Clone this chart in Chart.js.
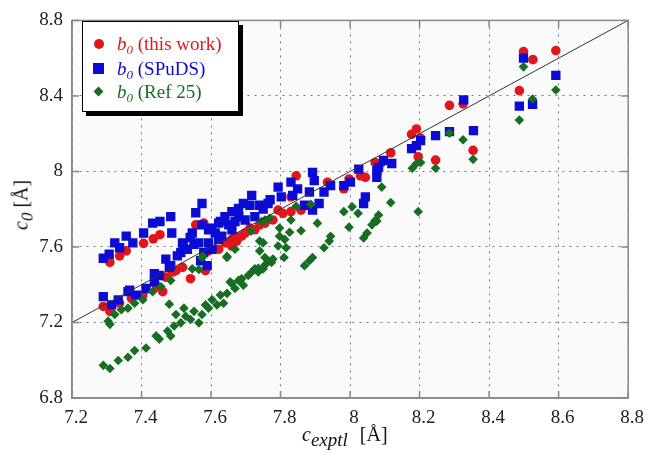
<!DOCTYPE html>
<html>
<head>
<meta charset="utf-8">
<script src="https://cdn.jsdelivr.net/npm/chart.js@4/dist/chart.umd.min.js"></script>
<style>
  body { margin: 0; background: #fff; }
  #wrap { position: relative; width: 649px; height: 454px; font-family: "Liberation Serif", "DejaVu Serif", serif; }
  #plot { position: absolute; left: 0; top: 0; }
  .legend { position: absolute; left: 82px; top: 21px; width: 155px; height: 89px; background: #fff;
            border: 1.5px solid #000; box-shadow: 4px 4px 0 #000; }
  .row { position: absolute; left: 0; font-size: 19px; white-space: nowrap; line-height: 20px; }
  .row i { font-style: italic; }
  .row sub { font-size: 13px; font-style: italic; vertical-align: -4px; line-height: 0; }
  .mk { position: absolute; left: 11px; }
  .txt { position: absolute; left: 34px; top: 0; }
  .xt { position: absolute; left: 302px; top: 423px; font-size: 20px; white-space: nowrap; color: #111; }
  .xt i { font-style: italic; }
  .xt sub { font-size: 19px; font-style: italic; vertical-align: -5px; line-height: 0; }
  .yt { position: absolute; left: 21px; top: 205px; font-size: 20px; white-space: nowrap; color: #111;
        transform: translate(-50%, -50%) rotate(-90deg); }
  .yt sub { font-size: 17px; font-style: italic; vertical-align: -5px; line-height: 0; }
</style>
</head>
<body>
<div id="wrap">
  <canvas id="plot" width="649" height="454"></canvas>
  <div class="legend">
    <div class="row" style="top:12px;color:#e3151b">
      <span class="mk" style="top:5px;width:10px;height:10px;border-radius:50%;background:#e3151b"></span>
      <span class="txt"><i>b</i><sub>0</sub> (this work)</span>
    </div>
    <div class="row" style="top:37px;color:#0b0bd6">
      <span class="mk" style="top:4px;left:10px;width:11px;height:11px;background:#0b0bd6"></span>
      <span class="txt"><i>b</i><sub>0</sub> (SPuDS)</span>
    </div>
    <div class="row" style="top:60px;color:#176e22">
      <span class="mk" style="top:6px;left:12px;width:7px;height:7px;background:#176e22;transform:rotate(45deg)"></span>
      <span class="txt"><i>b</i><sub>0</sub> (Ref 25)</span>
    </div>
  </div>
  <div class="xt"><i>c</i><sub>exptl</sub><span style="margin-left:12px">[Å]</span></div>
  <div class="yt"><i>c</i><sub>0</sub> [Å]</div>
</div>
<script>
// b0 (this work)
const thisWorkX = [8.499, 8.526, 8.592, 8.487, 8.286, 8.325, 8.191, 8.177, 8.203, 8.117, 8.196, 8.246, 8.354, 8.091,
  7.309, 7.307, 7.337, 7.356, 7.406, 7.434, 7.453, 7.556, 7.579, 7.584, 7.541, 7.518, 7.622, 7.641, 7.674, 7.688,
  7.669, 7.442, 7.470, 7.499, 7.290, 7.309, 7.337, 7.371, 7.404, 7.446, 7.461, 7.489, 7.845, 7.830, 7.793, 7.807,
  7.830, 7.778, 7.740, 7.726, 7.698, 7.660, 7.646, 7.593, 7.859, 7.935, 7.997, 8.030, 8.044, 8.072, 7.982, 7.755,
  7.660, 7.712];
const thisWorkY = [8.635, 8.592, 8.640, 8.428, 8.350, 8.358, 8.225, 8.197, 8.177, 8.099, 8.078, 8.060, 8.112, 8.047,
  7.518, 7.539, 7.553, 7.579, 7.619, 7.643, 7.665, 7.717, 7.726, 7.475, 7.432, 7.492, 7.588, 7.622, 7.631, 7.657,
  7.657, 7.397, 7.440, 7.475, 7.285, 7.259, 7.302, 7.328, 7.345, 7.389, 7.363, 7.467, 7.977, 7.865, 7.795, 7.778,
  7.787, 7.743, 7.717, 7.691, 7.674, 7.640, 7.622, 7.579, 7.795, 7.943, 7.960, 7.977, 7.969, 8.047, 7.908, 7.726,
  7.605, 7.700];

// b0 (SPuDS)
const spudsX = [8.499, 8.592, 8.487, 8.525, 8.327, 8.355, 8.286, 8.246, 8.203, 8.191, 8.177, 8.096, 8.120, 8.077, 8.077,
  7.307, 7.290, 7.323, 7.337, 7.356, 7.375, 7.406, 7.432, 7.453, 7.484, 7.487, 7.556, 7.574, 7.574, 7.546, 7.518,
  7.513, 7.532, 7.551, 7.503, 7.470, 7.480, 7.437, 7.593, 7.612, 7.627, 7.660, 7.679, 7.693, 7.651, 7.669, 7.631,
  7.603, 7.579, 7.570, 7.290, 7.314, 7.333, 7.361, 7.385, 7.413, 7.437, 7.451, 7.484, 7.589, 7.366, 7.717, 7.712,
  7.740, 7.764, 7.793, 7.802, 7.830, 7.849, 7.835, 7.892, 7.897, 7.883, 7.869, 7.892, 7.911, 7.925, 7.944, 7.982,
  8.001, 8.025, 8.044, 8.039, 8.082, 7.622, 7.593, 7.565, 7.660, 7.698, 7.726, 7.622, 7.540, 7.600, 7.640, 7.680,
  7.750, 7.770, 7.520];
const spudsY = [8.600, 8.509, 8.346, 8.355, 8.379, 8.216, 8.211, 8.190, 8.163, 8.137, 8.121, 8.059, 8.042, 8.003, 7.969,
  7.562, 7.540, 7.622, 7.596, 7.657, 7.622, 7.674, 7.726, 7.735, 7.761, 7.674, 7.781, 7.830, 7.717, 7.674, 7.622,
  7.570, 7.588, 7.614, 7.553, 7.536, 7.492, 7.458, 7.622, 7.674, 7.735, 7.787, 7.804, 7.830, 7.717, 7.735, 7.657,
  7.588, 7.570, 7.527, 7.337, 7.293, 7.320, 7.363, 7.345, 7.380, 7.415, 7.449, 7.501, 7.501, 7.371, 7.873, 7.821,
  7.821, 7.830, 7.917, 7.865, 7.943, 7.908, 7.873, 7.995, 7.951, 7.891, 7.821, 7.795, 7.830, 7.891, 7.925, 7.925,
  7.943, 8.012, 7.865, 7.830, 8.021, 7.726, 7.691, 7.622, 7.691, 7.743, 7.761, 7.640, 7.650, 7.700, 7.760, 7.760,
  7.800, 7.850, 7.600];

// b0 (Ref 25)
const ref25X = [8.499, 8.592, 8.525, 8.487, 8.286, 8.325, 8.354, 8.246, 8.203, 8.191, 8.179, 8.091, 8.117, 8.196, 8.082,
  8.077, 8.006, 7.982, 8.023, 8.072, 8.063, 7.997, 8.049, 8.039, 7.944, 7.940, 7.925, 7.892, 7.883, 7.869, 7.887,
  7.906, 7.845, 7.859, 7.830, 7.826, 7.797, 7.797, 7.812, 7.793, 7.816, 7.810, 7.778, 7.769, 7.755, 7.740, 7.750,
  7.740, 7.755, 7.764, 7.750, 7.736, 7.726, 7.717, 7.707, 7.688, 7.679, 7.655, 7.715, 7.669, 7.646, 7.576, 7.565,
  7.290, 7.309, 7.333, 7.361, 7.380, 7.413, 7.442, 7.451, 7.475, 7.484, 7.494, 7.513, 7.527, 7.541, 7.551, 7.565,
  7.574, 7.584, 7.593, 7.603, 7.617, 7.627, 7.636, 7.646, 7.660, 7.669, 7.684, 7.693, 7.736, 7.755, 7.774, 7.522,
  7.499, 7.480, 7.309, 7.304, 7.323, 7.342, 7.361, 7.380, 7.404, 7.432, 7.456, 7.484, 7.546, 7.574, 7.646, 7.745];
const ref25Y = [8.554, 8.431, 8.384, 8.272, 8.203, 8.168, 8.064, 8.017, 8.047, 8.042, 8.017, 7.917, 7.835, 7.787, 7.769,
  7.737, 7.813, 7.787, 7.778, 7.740, 7.717, 7.705, 7.674, 7.648, 7.657, 7.631, 7.596, 7.544, 7.527, 7.501, 7.826,
  7.726, 7.816, 7.686, 7.743, 7.678, 7.700, 7.657, 7.640, 7.605, 7.596, 7.544, 7.536, 7.752, 7.743, 7.631, 7.622,
  7.579, 7.544, 7.527, 7.484, 7.467, 7.484, 7.467, 7.449, 7.432, 7.423, 7.415, 7.683, 7.588, 7.550, 7.550, 7.481,
  6.973, 6.956, 6.999, 7.016, 7.051, 7.065, 7.129, 7.112, 7.155, 7.129, 7.181, 7.198, 7.233, 7.216, 7.259, 7.198,
  7.242, 7.293, 7.276, 7.320, 7.293, 7.345, 7.302, 7.354, 7.406, 7.380, 7.423, 7.397, 7.487, 7.504, 7.518, 7.276,
  7.242, 7.297, 7.190, 7.207, 7.242, 7.268, 7.276, 7.302, 7.320, 7.363, 7.389, 7.423, 7.484, 7.544, 7.544, 7.735];

// y = x reference line
const diagX = [7.2, 8.8];
const diagY = [7.2, 8.8];

const xTicks = [7.2, 7.4, 7.6, 7.8, 8, 8.2, 8.4, 8.6, 8.8];
const yTicks = [6.8, 7.2, 7.6, 8, 8.4, 8.8];

function pts(xs, ys) {
  return xs.map((x, i) => ({ x: x, y: ys[i] }));
}

const frame = {
  id: 'frame',
  beforeDraw(chart) {
    const a = chart.chartArea, ctx = chart.ctx;
    ctx.save();
    ctx.fillStyle = '#fafafa';
    ctx.fillRect(a.left, a.top, a.right - a.left, a.bottom - a.top);
    ctx.restore();
  },
  afterDatasetsDraw(chart) {
    const a = chart.chartArea, ctx = chart.ctx;
    const xs = chart.scales.x, ys = chart.scales.y;
    ctx.save();
    ctx.strokeStyle = '#888';
    ctx.lineWidth = 1.5;
    ctx.strokeRect(a.left, a.top, a.right - a.left, a.bottom - a.top);
    ctx.beginPath();
    xTicks.forEach(v => {
      const p = xs.getPixelForValue(v);
      ctx.moveTo(p, a.bottom); ctx.lineTo(p, a.bottom - 7);
      ctx.moveTo(p, a.top); ctx.lineTo(p, a.top + 7);
    });
    yTicks.forEach(v => {
      const p = ys.getPixelForValue(v);
      ctx.moveTo(a.left, p); ctx.lineTo(a.left + 7, p);
      ctx.moveTo(a.right, p); ctx.lineTo(a.right - 7, p);
    });
    ctx.stroke();
    ctx.restore();
  }
};

const tickFont = { family: 'Liberation Serif', size: 19 };

new Chart(document.getElementById('plot'), {
  type: 'scatter',
  data: {
    datasets: [
      { label: 'y = x', type: 'line', data: pts(diagX, diagY), borderColor: '#333', borderWidth: 1,
        pointRadius: 0, fill: false, order: 0 },
      { label: 'b0 (this work)', data: pts(thisWorkX, thisWorkY), pointStyle: 'circle', pointRadius: 4.8,
        backgroundColor: '#e3151b', borderColor: '#e3151b', borderWidth: 0, order: 3 },
      { label: 'b0 (SPuDS)', data: pts(spudsX, spudsY), pointStyle: 'rect', pointRadius: 6.6,
        backgroundColor: '#0b0bd6', borderColor: '#0b0bd6', borderWidth: 0, order: 2 },
      { label: 'b0 (Ref 25)', data: pts(ref25X, ref25Y), pointStyle: 'rectRot', pointRadius: 4.8,
        backgroundColor: '#176e22', borderColor: '#176e22', borderWidth: 0, order: 1 }
    ]
  },
  options: {
    responsive: false,
    animation: false,
    layout: { padding: { left: 0, right: 18, top: 13, bottom: 0 } },
    plugins: { legend: { display: false }, tooltip: { enabled: false } },
    scales: {
      x: {
        type: 'linear', min: 7.2, max: 8.8,
        afterFit(s) { s.height = 56; },
        afterBuildTicks(s) { s.ticks = xTicks.map(v => ({ value: v })); },
        ticks: { font: tickFont, color: '#222', padding: 9, labelOffset: 4,
                 callback: v => String(Math.round(v * 10) / 10) },
        grid: { color: '#777', lineWidth: 1, drawTicks: false },
        border: { display: true, color: '#888', width: 1.5, dash: [2, 5] }
      },
      y: {
        type: 'linear', min: 6.8, max: 8.8,
        afterFit(s) { s.width = 72; },
        afterBuildTicks(s) { s.ticks = yTicks.map(v => ({ value: v })); },
        ticks: { font: tickFont, color: '#222', padding: 9,
                 callback: v => String(Math.round(v * 10) / 10) },
        grid: { color: '#777', lineWidth: 1, drawTicks: false },
        border: { display: true, color: '#888', width: 1.5, dash: [2, 5] }
      }
    }
  },
  plugins: [frame]
});
</script>
</body>
</html>
